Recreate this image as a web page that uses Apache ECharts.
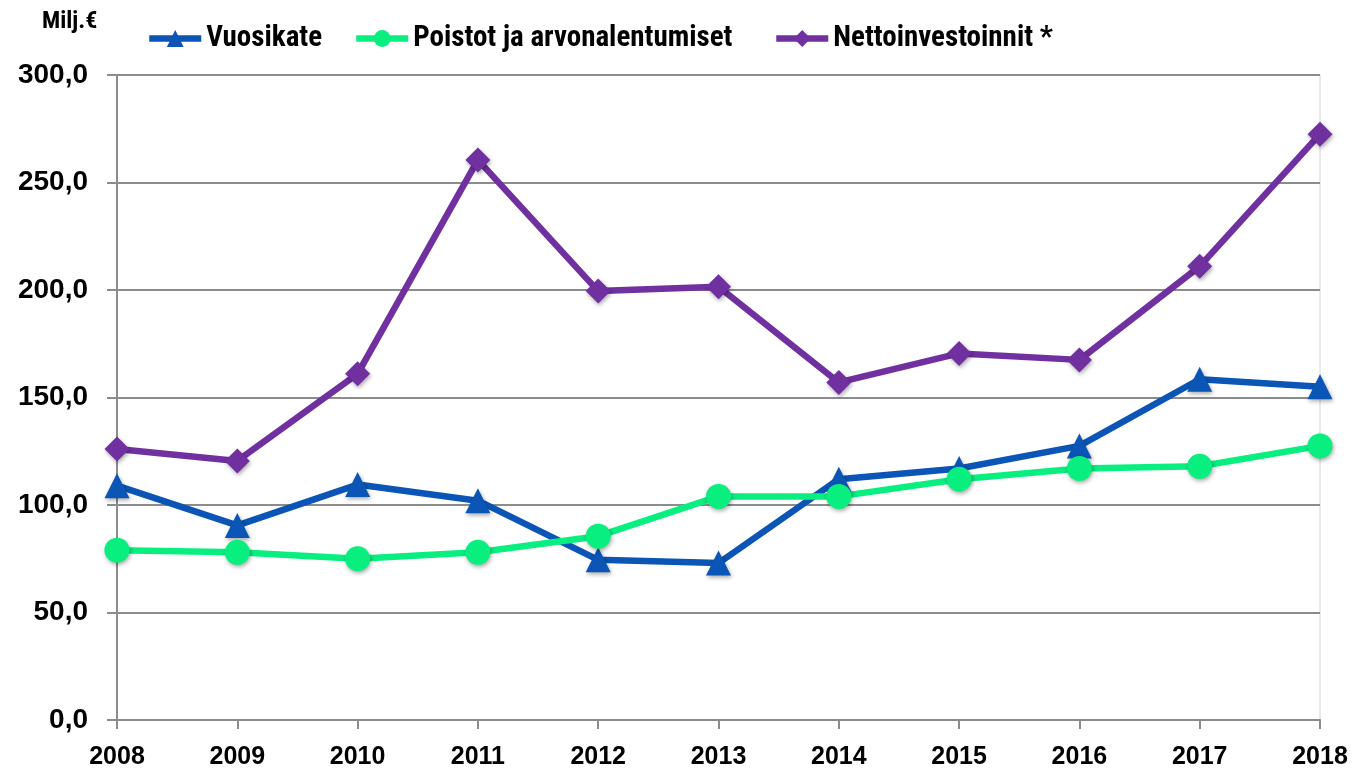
<!DOCTYPE html>
<html><head><meta charset="utf-8">
<script src="https://cdn.jsdelivr.net/npm/echarts@6/dist/echarts.min.js"></script>
<style>html,body{margin:0;padding:0;background:#fff}#c{width:1352px;height:770px}</style>
</head><body><div id="c"></div>
<script>
const years = ['2008','2009','2010','2011','2012','2013','2014','2015','2016','2017','2018'];
const vuosikate = [109.0, 90.5, 109.5, 102.0, 74.5, 73.0, 112.0, 117.0, 127.5, 158.5, 155.0];
const poistot = [79.0, 78.0, 75.0, 78.0, 85.5, 104.0, 104.0, 112.0, 117.0, 118.0, 127.5];
const netto = [126.0, 120.5, 161.0, 260.5, 199.5, 201.5, 157.0, 170.5, 167.5, 211.0, 272.5];
const names = ['Vuosikate', 'Poistot ja arvonalentumiset', 'Nettoinvestoinnit *'];
const yTicks = { min: 0, max: 300, interval: 50 };

const COND = '"Roboto Condensed", "DejaVu Sans Condensed", sans-serif';
const SANS = '"Liberation Sans", Arial, sans-serif';
const chart = echarts.init(document.getElementById('c'), null, { renderer: 'canvas' });
const shadow = { shadowBlur: 4, shadowColor: 'rgba(0,0,0,0.35)', shadowOffsetX: 1, shadowOffsetY: 2 };
function mk(name, data, color, symbol, size) {
  return {
    name, type: 'line', data, symbol, symbolSize: size,
    lineStyle: { color, width: 6.5 },
    itemStyle: Object.assign({ color }, shadow),
    emphasis: { disabled: true }, animation: false
  };
}
function leg(name, left) {
  return {
    top: 24, left, padding: 0, itemGap: 0, itemWidth: 52, itemHeight: 21,
    lineStyle: { width: 6.5 },
    itemStyle: { shadowBlur: 0 },
    textStyle: { fontFamily: COND, fontSize: 29, fontWeight: 'bold', color: '#000' },
    data: [name]
  };
}
chart.setOption({
  animation: false,
  textStyle: { fontFamily: SANS },
  title: { text: 'Milj.€', left: 37, top: 5, textStyle: { fontFamily: COND, fontSize: 24, fontWeight: 'bold', color: '#000' } },
  legend: [leg(names[0], 146), leg(names[1], 353), leg(names[2], 773)],
  grid: { left: 117, right: 32, top: 75, bottom: 48, show: true, borderColor: '#d4d4d4', borderWidth: 1 },
  xAxis: {
    type: 'category', data: years, boundaryGap: false,
    axisLine: { lineStyle: { color: '#8c8c8c', width: 2 } },
    axisTick: { show: true, alignWithLabel: true, length: 9, lineStyle: { color: '#8c8c8c', width: 2 } },
    axisLabel: { fontFamily: SANS, fontSize: 25, fontWeight: 'bold', color: '#000', margin: 25 },
    splitLine: { show: false }
  },
  yAxis: {
    type: 'value', min: yTicks.min, max: yTicks.max, interval: yTicks.interval,
    axisLine: { show: true, lineStyle: { color: '#8c8c8c', width: 2 } },
    axisTick: { show: true, length: 10, lineStyle: { color: '#8c8c8c', width: 2 } },
    axisLabel: { fontFamily: SANS, fontSize: 28, fontWeight: 'bold', color: '#000', margin: 29,
      formatter: v => v.toFixed(1).replace('.', ',') },
    splitLine: { lineStyle: { color: '#8c8c8c', width: 2 } }
  },
  series: [
    mk(names[0], vuosikate, '#0a55b5', 'triangle', 25),
    mk(names[1], poistot, '#08ef80', 'circle', 25),
    mk(names[2], netto, '#7030a0', 'diamond', 25)
  ]
});
</script></body></html>
